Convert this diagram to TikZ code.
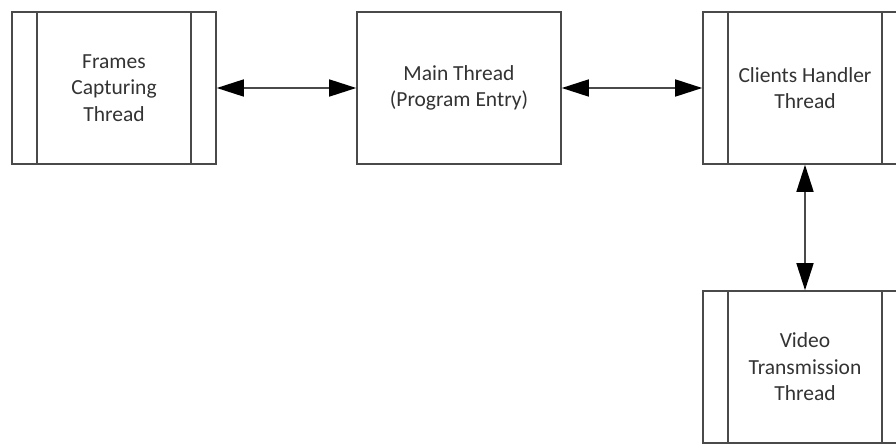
\documentclass[tikz,border=0pt]{standalone}
\usepackage{fontspec}
\setmainfont{Carlito}
\usetikzlibrary{arrows.meta}
\definecolor{edge}{HTML}{4A4A4A}
\definecolor{txt}{HTML}{333333}
\tikzset{
  threadbox/.style={draw=edge, line width=1.6pt, rectangle, minimum width=204pt, minimum height=152pt,
    inner sep=0pt, align=center, text=txt, font=\fontsize{21.5}{26.5}\selectfont,
    path picture={
      \draw[edge, line width=1.6pt] ([xshift=25pt]path picture bounding box.north west) -- ([xshift=25pt]path picture bounding box.south west);
      \draw[edge, line width=1.6pt] ([xshift=-25pt]path picture bounding box.north east) -- ([xshift=-25pt]path picture bounding box.south east);
    }},
  plainbox/.style={draw=edge, line width=1.6pt, rectangle, minimum width=204pt, minimum height=152pt,
    inner sep=0pt, align=center, text=txt, font=\fontsize{21.5}{26.5}\selectfont},
  link/.style={draw=edge, line width=1.6pt, {Triangle[length=27pt,width=17pt,fill=black,color=black]}-{Triangle[length=27pt,width=17pt,fill=black,color=black]}}
}
\begin{document}
\begin{tikzpicture}[x=1pt,y=-1pt]
\clip (0,0) rectangle (896,444);
\fill[white] (0,0) rectangle (896,444);
\node[threadbox] (f) at (114,88) {Frames\\Capturing\\Thread};
\node[plainbox] (m) at (459,88) {Main Thread\\(Program Entry)};
\node[threadbox] (c) at (805,88) {Clients Handler\\Thread};
\node[threadbox] (v) at (805,367) {Video\\Transmission\\Thread};
\draw[link] (f) -- (m);
\draw[link] (m) -- (c);
\draw[link] (c) -- (v);
\end{tikzpicture}
\end{document}
